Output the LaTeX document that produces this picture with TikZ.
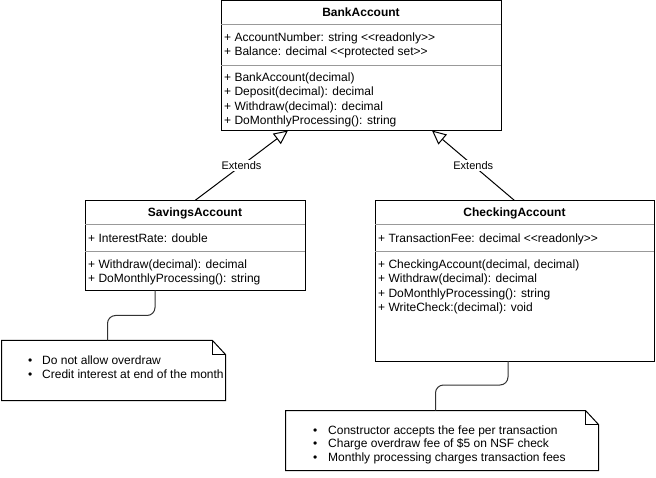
\documentclass[tikz,border=0pt]{standalone}
\usepackage{fontspec}
\newfontfamily\umlfont{Liberation Sans}
\usetikzlibrary{arrows.meta}
\begin{document}
\begin{tikzpicture}[x=1pt,y=-1pt,
  every node/.style={font=\umlfont\fontsize{12}{14}\selectfont},
  umlbox/.style={draw=black, line width=1pt, fill=white, rectangle, inner sep=0pt, outer sep=0pt, anchor=north west},
  notebox/.style={rectangle, inner sep=0pt, outer sep=0pt, anchor=north west},
  noteshape/.style={draw=black, line width=1pt, fill=white, line join=miter},
  sepline/.style={draw=black!40, line width=1pt},
  umltitle/.style={font=\umlfont\bfseries\fontsize{12}{14}\selectfont, inner sep=0pt, text height=8.6pt, text depth=0pt},
  member/.style={anchor=west, inner sep=0pt, text height=8.6pt, text depth=0pt},
  extends/.style={draw=black, line width=1pt, -{Triangle[open, length=14pt, width=13pt]}},
  extlabel/.style={fill=white, inner sep=1pt, font=\umlfont\fontsize{11}{13}\selectfont},
  noteline/.style={draw=black!80, line width=1pt, rounded corners=8pt}
]
\useasboundingbox[fill=white] (0,0) rectangle (656,478);

% BankAccount
\node[umlbox, minimum width=280pt, minimum height=130pt] (bank) at (221,0.5) {};
\draw[sepline] ([yshift=-24pt]bank.north west) -- ([yshift=-24pt]bank.north east);
\draw[sepline] ([yshift=-65pt]bank.north west) -- ([yshift=-65pt]bank.north east);
\node[umltitle] (bankT) at (361,12) {BankAccount};
\node[member] (bankA1) at (224,37) {+ AccountNumber: string <<readonly>>};
\node[member] (bankA2) at (224,51) {+ Balance: decimal <<protected set>>};
\node[member] (bankM1) at (224,77) {+ BankAccount(decimal)};
\node[member] (bankM2) at (224,91.5) {+ Deposit(decimal): decimal};
\node[member] (bankM3) at (224,106) {+ Withdraw(decimal): decimal};
\node[member] (bankM4) at (224,120.5) {+ DoMonthlyProcessing(): string};

% SavingsAccount
\node[umlbox, minimum width=220pt, minimum height=90pt] (savings) at (85,200.5) {};
\draw[sepline] ([yshift=-24pt]savings.north west) -- ([yshift=-24pt]savings.north east);
\draw[sepline] ([yshift=-51pt]savings.north west) -- ([yshift=-51pt]savings.north east);
\node[umltitle] (savT) at (195,212) {SavingsAccount};
\node[member] (savA1) at (88,238) {+ InterestRate: double};
\node[member] (savM1) at (88,264) {+ Withdraw(decimal): decimal};
\node[member] (savM2) at (88,278.5) {+ DoMonthlyProcessing(): string};

% CheckingAccount
\node[umlbox, minimum width=279pt, minimum height=160.5pt] (checking) at (375,200.5) {};
\draw[sepline] ([yshift=-24pt]checking.north west) -- ([yshift=-24pt]checking.north east);
\draw[sepline] ([yshift=-51pt]checking.north west) -- ([yshift=-51pt]checking.north east);
\node[umltitle] (chkT) at (514.5,212) {CheckingAccount};
\node[member] (chkA1) at (378,238) {+ TransactionFee: decimal <<readonly>>};
\node[member] (chkM1) at (378,264) {+ CheckingAccount(decimal, decimal)};
\node[member] (chkM2) at (378,278.5) {+ Withdraw(decimal): decimal};
\node[member] (chkM3) at (378,293) {+ DoMonthlyProcessing(): string};
\node[member] (chkM4) at (378,307.5) {+ WriteCheck:(decimal): void};

% Extends connectors
\draw[extends] (savings.north) -- node[extlabel] (ext1) {Extends} ([xshift=-73pt]bank.south);
\draw[extends] (checking.north) -- node[extlabel] (ext2) {Extends} ([xshift=71pt]bank.south);

% Note 1
\node[notebox, minimum width=224pt, minimum height=60pt] (note1) at (1.5,340.5) {};
\draw[noteshape] (note1.north west) -- ([xshift=-13pt]note1.north east) -- ([yshift=-14pt]note1.north east) -- (note1.south east) -- (note1.south west) -- cycle;
\draw[noteshape, fill=none] ([xshift=-13pt]note1.north east) |- ([yshift=-14pt]note1.north east);
\node[member] (n1a) at (28,360) {\makebox[14pt][l]{\textbullet}Do not allow overdraw};
\node[member] (n1b) at (28,374) {\makebox[14pt][l]{\textbullet}Credit interest at end of the month};

% Note 2
\node[notebox, minimum width=313pt, minimum height=60pt] (note2) at (285.5,410.5) {};
\draw[noteshape] (note2.north west) -- ([xshift=-13pt]note2.north east) -- ([yshift=-14pt]note2.north east) -- (note2.south east) -- (note2.south west) -- cycle;
\draw[noteshape, fill=none] ([xshift=-13pt]note2.north east) |- ([yshift=-14pt]note2.north east);
\node[member] (n2a) at (313,430) {\makebox[15pt][l]{\textbullet}Constructor accepts the fee per transaction};
\node[member] (n2b) at (313,443.5) {\makebox[15pt][l]{\textbullet}Charge overdraw fee of \$5 on NSF check};
\node[member] (n2c) at (313,457) {\makebox[15pt][l]{\textbullet}Monthly processing charges transaction fees};

% Note connectors
\draw[noteline] ([xshift=-40pt]savings.south) -- ++(0,25) -| ([xshift=-6pt]note1.north);
\draw[noteline] ([xshift=-6.5pt]checking.south) -- ++(0,24) -| ([xshift=-6.5pt]note2.north);
\end{tikzpicture}
\end{document}
